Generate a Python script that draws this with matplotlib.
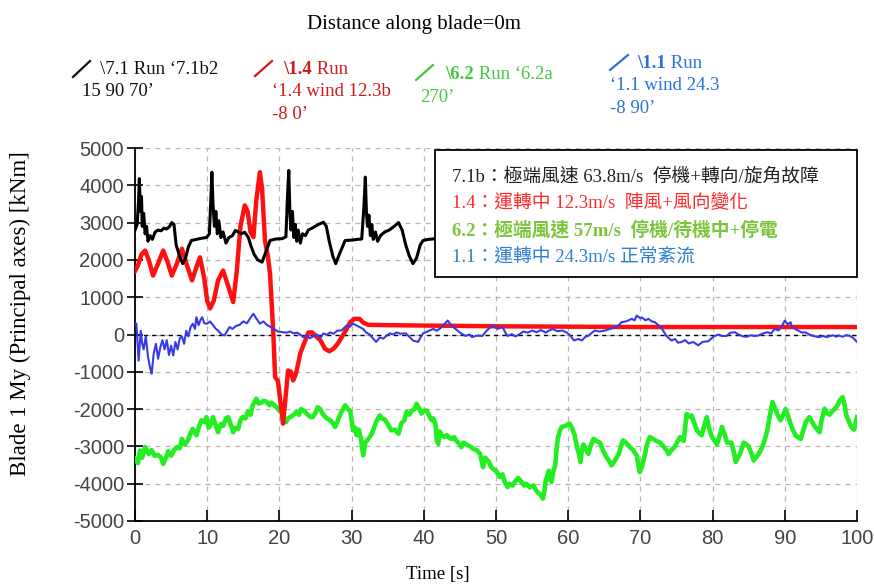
import matplotlib
matplotlib.use("Agg")
import matplotlib.pyplot as plt
from matplotlib.patches import Rectangle
from matplotlib.lines import Line2D

plt.rcParams["axes.unicode_minus"] = False

# ---------------- data ----------------
black_t = [0.0, 0.3, 0.5, 0.6, 0.75, 0.9, 1.0, 1.2, 1.4, 1.6, 1.8, 2.1, 2.4, 2.8, 3.2, 3.6, 4.0, 4.4, 4.8,
           5.1, 5.4, 5.7, 6.1, 6.6, 7.0, 7.4, 7.8, 8.5, 9.2, 9.9, 10.3, 10.5, 10.65, 10.8, 11.0, 11.2, 11.4,
           11.6, 11.9, 12.2, 12.6, 13.0, 13.5, 13.9, 14.3, 14.7, 15.2, 15.7, 16.1, 16.5, 17.0, 17.6, 18.0,
           18.7, 19.5, 20.4, 20.9, 21.1, 21.3, 21.45, 21.6, 21.8, 22.0, 22.2, 22.4, 22.6, 22.9, 23.2, 23.6,
           24.0, 24.7, 25.4, 26.1, 26.5, 26.9, 27.4, 27.8, 28.3, 29.1, 30.0, 30.8, 31.4, 31.7, 31.9, 32.05,
           32.2, 32.4, 32.6, 32.8, 33.0, 33.3, 33.6, 34.0, 34.6, 35.2, 35.9, 36.5, 37.0, 37.5, 38.0, 38.5,
           39.0, 39.5, 39.9, 40.6, 41.2, 41.8]
black_v = [2800, 2950, 3600, 4180, 3300, 3700, 2900, 3250, 2700, 2900, 2500, 2650, 2550, 2750, 2800, 2780,
           2850, 2830, 2900, 3000, 2950, 2400, 2150, 1900, 2050, 2350, 2520, 2550, 2580, 2600, 2700, 3600,
           4350, 3500, 2900, 3300, 2700, 3050, 2600, 2750, 2450, 2600, 2650, 2790, 2750, 2700, 2740, 2600,
           2350, 2150, 2000, 1940, 2150, 2520, 2560, 2570, 2620, 3600, 4400, 3300, 2800, 3300, 2600, 2950,
           2500, 2800, 2450, 2700, 2650, 2800, 2870, 2950, 3010, 2900, 2500, 2100, 1900, 2150, 2520, 2530,
           2550, 2560, 3400, 4220, 3300, 2900, 3200, 2650, 2950, 2550, 2750, 2500, 2650, 2750, 2800, 2900,
           3000, 2800, 2400, 2100, 1900, 2050, 2400, 2520, 2550, 2560, 2580]

red_t = [0.0, 0.4, 0.9, 1.4, 1.9, 2.5, 3.2, 3.9, 4.5, 5.1, 5.8, 6.5, 7.2, 7.9, 8.5, 9.0, 9.6, 10.0, 10.4,
         10.9, 11.5, 12.2, 12.9, 13.6, 14.1, 14.6, 15.2, 15.6, 16.0, 16.4, 16.8, 17.3, 17.6, 18.0, 18.4,
         18.7, 19.0, 19.2, 19.4, 19.8, 20.2, 20.5, 20.8, 21.2, 21.6, 21.9, 22.2, 22.4, 22.9, 23.5, 24.0,
         24.5, 25.1, 25.7, 26.3, 26.9, 27.5, 28.1, 28.7, 29.2, 29.8, 30.4, 31.1, 31.6, 32.3, 35.0, 40.0,
         50.0, 60.0, 70.0, 80.0, 90.0, 100.0]
red_v = [1700, 1850, 2150, 2250, 2000, 1580, 1900, 2250, 1950, 1580, 1900, 2300, 1850, 1450, 1800, 2070,
         1500, 900, 700, 900, 1450, 1715, 1300, 870, 1700, 2900, 3460, 3300, 2750, 2610, 3600, 4350, 3900,
         2520, 2100, 1630, 600, -160, -1140, -1250, -1900, -2390, -1800, -965, -1000, -1230, -1100, -965,
         -500, -200, 50, 60, -50, -160, -380, -450, -380, -240, -50, 107, 330, 420, 420, 320, 260, 250, 240,
         220, 210, 200, 200, 200, 200]

blue_t = [0.0, 0.2, 0.5, 0.8, 1.0, 1.2, 1.5, 1.8, 2.1, 2.3, 2.6, 2.9, 3.2, 3.5, 3.8, 4.1, 4.4, 4.7, 5.0,
          5.3, 5.6, 5.9, 6.2, 6.5, 6.8, 7.1, 7.4, 7.7, 8.0, 8.3, 8.5, 8.8, 9.1, 9.3, 9.6, 10.0, 10.4, 10.8,
          11.2, 11.5, 12.0, 12.4, 12.8, 13.1, 13.5, 14.0, 14.5, 15.0, 15.5, 16.0, 16.4, 16.8, 17.3, 17.8,
          18.3, 18.8, 19.2, 19.8, 20.5, 21.0, 21.5, 22.0, 22.5, 23.0, 23.3, 23.8, 24.2, 24.7, 25.2, 25.7,
          26.1, 26.6, 27.0, 27.5, 28.0, 28.6, 29.3, 29.7, 30.2, 30.6, 31.1, 31.6, 32.0, 32.5, 33.0, 33.4,
          33.9, 34.4, 34.9, 35.3, 35.8, 36.2, 36.8, 37.5, 38.0, 38.5, 39.2, 39.6, 39.9, 40.5, 41.3, 41.8,
          42.5, 43.3, 43.8, 44.4, 45.0, 45.8, 46.3, 46.7, 47.3, 48.1, 48.7, 49.5, 50.2, 50.9, 51.3, 51.6,
          52.2, 52.7, 53.2, 53.8, 54.4, 55.0, 55.6, 56.2, 56.9, 57.3, 57.8, 58.5, 59.2, 59.8, 60.3, 60.8,
          61.4, 61.9, 62.4, 62.8, 63.3, 63.7, 64.3, 65.1, 65.8, 66.5, 67.0, 67.4, 68.0, 68.8, 69.2, 69.5,
          70.0, 70.2, 70.7, 71.1, 71.6, 72.0, 72.5, 73.0, 73.6, 74.3, 74.8, 75.2, 75.7, 76.2, 76.7, 77.3,
          78.0, 78.6, 79.4, 80.1, 80.8, 81.3, 81.9, 82.5, 83.1, 83.6, 84.2, 84.7, 85.3, 85.8, 86.3, 87.0,
          87.6, 88.1, 88.6, 89.1, 89.5, 90.0, 90.4, 90.8, 91.0, 91.5, 91.9, 92.4, 92.8, 93.3, 93.8, 94.2,
          94.7, 95.3, 95.8, 96.1, 96.7, 97.1, 97.5, 98.0, 98.5, 98.9, 99.4, 100.0]
blue_v = [300, 290, -700, 100, -250, -400, -50, -600, -900, -1050, -500, -250, -650, -350, -150, -400, -150,
          -550, -300, -560, -200, -400, -100, -50, -250, 100, -50, 200, 290, 150, 465, 250, 400, 465, 300,
          290, 350, 250, 150, 107, 0, -27, 100, 200, 150, 230, 260, 350, 300, 450, 555, 430, 290, 350, 250,
          200, 150, 80, 60, 50, 80, 30, 50, -20, -70, -20, -100, -50, 0, -80, 30, -10, 55, 20, 100, 110, 240,
          200, 290, 250, 200, 150, 55, 0, -110, -200, -80, -110, -20, 30, 0, 55, 20, 30, -60, -160, -200, -60,
          30, 80, 150, 100, 200, 375, 250, 150, 50, -40, 0, -70, -30, -40, 100, 240, 150, 200, 50, -40, 10,
          -50, 0, 80, 50, 107, 60, 120, 50, 100, 150, 90, 107, 50, -30, -160, -120, -160, -60, -30, 50, 107,
          80, 107, 150, 190, 250, 330, 350, 420, 380, 510, 430, 460, 380, 420, 350, 330, 250, 150, -40, -160,
          -120, -220, -200, -150, -240, -200, -290, -200, -180, -60, 0, -40, -40, 50, 60, 0, -50, -60, -20,
          -40, -30, 30, 60, 30, 150, 110, 190, 375, 270, 330, 200, 140, 100, 50, 60, 10, -30, -50, -70, -40,
          -70, -50, -20, -60, -30, -60, -20, -30, -80, -200]

green_t = [0.0, 0.4, 0.7, 1.0, 1.4, 1.9, 2.3, 2.7, 3.2, 3.6, 3.9, 4.3, 4.6, 5.0, 5.4, 5.8, 6.2, 6.5, 6.9,
           7.3, 7.7, 8.0, 8.5, 8.9, 9.2, 9.6, 9.9, 10.2, 10.4, 10.8, 11.2, 11.5, 11.9, 12.2, 12.6, 12.9,
           13.3, 13.6, 13.9, 14.3, 14.6, 14.9, 15.3, 15.6, 16.0, 16.3, 16.8, 17.1, 17.5, 17.8, 18.2, 18.6,
           18.9, 19.3, 19.6, 20.0, 20.3, 20.6, 20.9, 21.2, 21.6, 22.0, 22.3, 22.7, 23.0, 23.4, 23.7, 24.2,
           24.6, 25.0, 25.3, 25.6, 26.0, 26.3, 26.6, 27.0, 27.3, 27.7, 28.0, 28.4, 28.8, 29.1, 29.5, 29.8,
           30.2, 30.5, 30.7, 31.0, 31.3, 31.6, 31.9, 32.1, 32.5, 32.8, 33.2, 33.5, 33.9, 34.2, 34.6, 35.0,
           35.5, 36.0, 36.5, 36.9, 37.3, 37.6, 38.0, 38.3, 38.7, 39.0, 39.4, 39.7, 40.0, 40.4, 40.8, 41.1,
           41.3, 41.6, 41.8, 42.0, 42.2, 42.5, 42.9, 43.2, 43.6, 43.9, 44.2, 44.5, 45.0, 45.2, 45.5, 45.9,
           46.4, 46.8, 47.3, 47.8, 48.2, 48.5, 48.7, 49.0, 49.3, 49.6, 50.0, 50.5, 50.9, 51.2, 51.6, 51.9,
           52.3, 52.8, 53.1, 53.5, 53.9, 54.2, 54.7, 55.2, 55.6, 55.9, 56.2, 56.5, 56.7, 56.9, 57.1, 57.3,
           57.5, 57.7, 57.9, 58.2, 58.4, 58.6, 58.9, 59.1, 59.6, 60.2, 60.5, 60.9, 61.2, 61.5, 61.7, 61.9,
           62.1, 62.5, 62.8, 63.1, 63.5, 63.9, 64.4, 64.8, 65.3, 65.7, 66.0, 66.4, 67.0, 67.3, 67.6, 68.0,
           68.6, 69.0, 69.5, 69.9, 70.2, 70.6, 70.9, 71.3, 71.7, 72.2, 72.7, 73.2, 73.6, 73.9, 74.3, 74.8,
           75.2, 75.5, 76.0, 76.2, 76.4, 76.8, 77.1, 77.5, 77.8, 78.2, 78.5, 78.9, 79.2, 79.5, 79.9, 80.3,
           80.6, 81.0, 81.3, 81.7, 82.0, 82.6, 83.0, 83.2, 83.5, 83.8, 84.3, 84.7, 85.0, 85.4, 85.7, 86.0,
           86.4, 86.8, 87.1, 87.4, 87.6, 88.0, 88.3, 88.7, 89.0, 89.4, 89.8, 90.1, 90.4, 90.8, 91.1, 91.5,
           92.2, 92.6, 92.9, 93.4, 93.8, 94.1, 94.5, 94.8, 95.1, 95.5, 95.8, 96.2, 96.6, 96.9, 97.3, 97.6,
           98.0, 98.3, 98.5, 98.8, 99.2, 99.6, 100.0]
green_v = [-3330, -3450, -3110, -3300, -3020, -3200, -3100, -3250, -3230, -3300, -3470, -3300, -3130, -3250,
           -3100, -3020, -3050, -2800, -2950, -2850, -2650, -2530, -2700, -2450, -2300, -2350, -2215, -2500,
           -2440, -2215, -2450, -2620, -2400, -2450, -2250, -2215, -2450, -2620, -2500, -2530, -2300, -2215,
           -2250, -2080, -2150, -1900, -1720, -1850, -1830, -1780, -1800, -1900, -1830, -1900, -1950, -2050,
           -2080, -2200, -2350, -2250, -2200, -2150, -2080, -2150, -2000, -2050, -2100, -2200, -2215, -2100,
           -1950, -1990, -2120, -2200, -2250, -2300, -2350, -2480, -2350, -2150, -2000, -1900, -2000, -2050,
           -2570, -2500, -2700, -2550, -2800, -3240, -2900, -2850, -2750, -2660, -2450, -2300, -2170, -2250,
           -2280, -2400, -2570, -2550, -2660, -2380, -2300, -2080, -2150, -2050, -2000, -1860, -2000, -2120,
           -2050, -2040, -2200, -2300, -2250, -2390, -2840, -2930, -2600, -2700, -2750, -2700, -2780, -2800,
           -2750, -2850, -2950, -3020, -2900, -2950, -3000, -3060, -3100, -3200, -3560, -3300, -3350, -3400,
           -3550, -3600, -3650, -3820, -3750, -3950, -4090, -4000, -4050, -3900, -3850, -3950, -4050, -4000,
           -4100, -4050, -4200, -4250, -4300, -4400, -4200, -3900, -3800, -3650, -3900, -3950, -3700, -3500,
           -3050, -2750, -2550, -2480, -2450, -2390, -2500, -2700, -3020, -3200, -3420, -3100, -2950, -3100,
           -3200, -3000, -2800, -2850, -2900, -3100, -3290, -3400, -3510, -3400, -3200, -3000, -2840, -2900,
           -3030, -3100, -3250, -3690, -3550, -3250, -2950, -2750, -2800, -2850, -2900, -3000, -3100, -3200,
           -3100, -3000, -2850, -2750, -2850, -2500, -2130, -2200, -2170, -2400, -2570, -2650, -2700, -2400,
           -2215, -2500, -2750, -2850, -2950, -2700, -2480, -2700, -2900, -2900, -3200, -3420, -3300, -3200,
           -2900, -2950, -3000, -3200, -3380, -3300, -3200, -3050, -2900, -2700, -2550, -2100, -1810, -2000,
           -2150, -2300, -2150, -2000, -2150, -2400, -2550, -2710, -2800, -2550, -2350, -2215, -2350, -2450,
           -2550, -2620, -2300, -1990, -2100, -2150, -2050, -2000, -1900, -1770, -1680, -1900, -2150, -2300,
           -2480, -2550, -2215]

x_ticks = [0, 10, 20, 30, 40, 50, 60, 70, 80, 90, 100]
y_ticks = [-5000, -4000, -3000, -2000, -1000, 0, 1000, 2000, 3000, 4000, 5000]

title_text = "Distance along blade=0m"
x_label = "Time [s]"
y_label = "Blade 1 My (Principal axes) [kNm]"

box_lines = [
    ("7.1b：極端風速 63.8m/s  停機+轉向/旋角故障", "#222222", "normal"),
    ("1.4：運轉中 12.3m/s  陣風+風向變化", "#ff2a2a", "normal"),
    ("6.2：極端風速 57m/s  停機/待機中+停電", "#7cc43c", "bold"),
    ("1.1：運轉中 24.3m/s 正常紊流", "#2f7fd0", "normal"),
]

legend_heads = ["\\7.1", "\\1.4", "\\6.2", "\\1.1"]
legend_rest = [" Run ‘7.1b2", " Run", " Run ‘6.2a", " Run"]
legend_next = [["15 90 70’"], ["‘1.4 wind 12.3b", "-8 0’"], ["270’"], ["‘1.1 wind 24.3", "-8 90’"]]
legend_colors = ["#111111", "#cc1a1a", "#44c844", "#2b6fe0"]
legend_bold = [False, True, True, True]

# ---------------- figure ----------------
W, H = 874, 586
fig = plt.figure(figsize=(W / 100, H / 100), dpi=100)
ax = fig.add_axes([135 / W, 1 - 521 / H, 722 / W, 373 / H])

serif = ["Liberation Serif", "DejaVu Serif"]
cjk = ["Liberation Serif", "Noto Sans CJK TC", "DejaVu Sans"]
tickfont = ["Liberation Sans Narrow", "Liberation Sans", "DejaVu Sans"]

ax.plot(green_t, green_v, color="#22ee22", lw=3.3, zorder=3, solid_joinstyle="round")
ax.plot(red_t, red_v, color="#ff1010", lw=3.2, zorder=4, solid_joinstyle="round")
ax.plot(blue_t, blue_v, color="#3a3ae6", lw=1.5, zorder=5)
ax.plot(black_t, black_v, color="black", lw=2.2, zorder=6)
ax.axhline(0, color="black", lw=1.0, ls=(0, (3, 3)), zorder=2.5)

ax.set_xlim(0, 100)
ax.set_ylim(-5000, 5000)
ax.set_xticks(x_ticks)
ax.set_yticks(y_ticks)
ax.grid(True, color="#b5b5b5", ls=(0, (4, 4)), lw=0.9)
ax.set_axisbelow(True)
for s in ("top", "right"):
    ax.spines[s].set_visible(False)
for s in ("left", "bottom"):
    ax.spines[s].set_linewidth(1.3)
ax.tick_params(axis="y", direction="inout", length=12, width=1.2, pad=2, labelcolor="#444444")
ax.tick_params(axis="x", direction="in", length=8, width=1.2, pad=6, labelcolor="#444444")
for lab in ax.get_xticklabels() + ax.get_yticklabels():
    lab.set_fontfamily(tickfont)
    lab.set_fontsize(14.5)

# annotation box
ax.add_patch(Rectangle((0.4155, 0.654), 0.5845, 0.3406, transform=ax.transAxes, facecolor="white",
                       edgecolor="black", lw=1.3, zorder=10, clip_on=False))
ys = [177, 203, 230, 257]
for (txt, col, wt), yy in zip(box_lines, ys):
    fig.text(452 / W, 1 - yy / H, txt, color=col, fontsize=13.5, fontweight=wt, family=cjk,
             va="center", ha="left", zorder=11)

# titles / labels
fig.text(414 / W, 1 - 24 / H, title_text, fontsize=15, family=serif, ha="center", va="center")
fig.text(438 / W, 1 - 575 / H, x_label, fontsize=13.5, family=serif, ha="center", va="center")
fig.text(20 / W, 1 - 314 / H, y_label, fontsize=16.5, family=serif, ha="center", va="center", rotation=90)

# top legend
slashes = [(73, 77, 90, 61), (255, 76, 272, 61), (416, 80, 433, 65), (610, 70, 628, 55)]
x_first = [100, 283, 445, 637]
x_next = [82, 272, 420, 610]
y_base = [78, 78, 83, 72]

for i in range(4):
    col = legend_colors[i]
    x0, y0, x1, y1 = slashes[i]
    fig.add_artist(Line2D([x0 / W, x1 / W], [1 - y0 / H, 1 - y1 / H], color=col, lw=1.6,
                          transform=fig.transFigure))
    t1 = fig.text(x_first[i] / W, 1 - y_base[i] / H, legend_heads[i], color=col, fontsize=13.5,
                  fontweight="bold" if legend_bold[i] else "normal", family=serif, va="bottom", ha="left")
    ax.annotate(legend_rest[i], xy=(1, 0), xycoords=t1, va="bottom", ha="left", color=col, fontsize=13.5,
                family=serif, annotation_clip=False)
    for j, line in enumerate(legend_next[i]):
        fig.text(x_next[i] / W, 1 - (y_base[i] + 22.5 * (j + 1)) / H, line, color=col, fontsize=13.5,
                 family=serif, va="bottom", ha="left")

fig.savefig("out.png", dpi=100, facecolor="white")
